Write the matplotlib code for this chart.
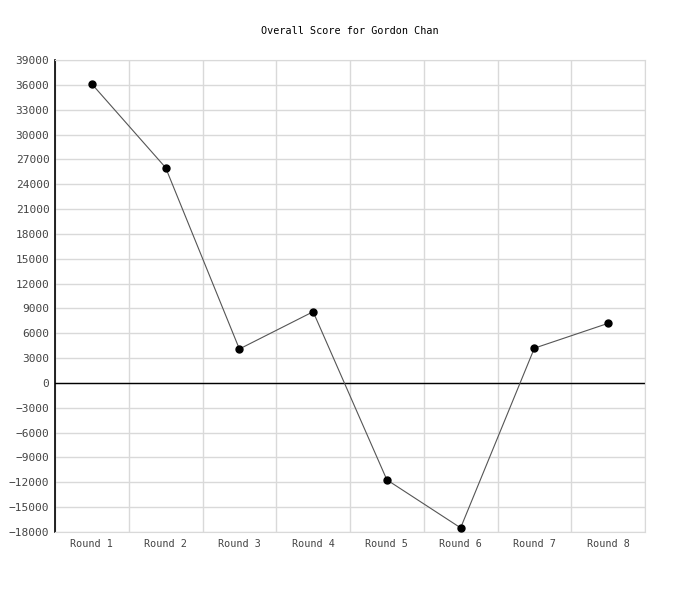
import matplotlib
matplotlib.use('Agg')
import matplotlib.pyplot as plt
import numpy as np

rounds = ['Round 1', 'Round 2', 'Round 3', 'Round 4',
          'Round 5', 'Round 6', 'Round 7', 'Round 8']
scores = [36100, 26000, 4100, 8600, -11700, -17500, 4200, 7200]

plt.rcParams['font.family'] = 'DejaVu Sans Mono'

fig = plt.figure(figsize=(7, 6), dpi=100)
ax = fig.add_axes([55 / 700, 1 - 532 / 600, 590 / 700, 472 / 600])

x = np.arange(len(rounds))
ax.plot(x, scores, color='#555555', linewidth=0.8, marker='o',
        markersize=5, markerfacecolor='black', markeredgecolor='black', zorder=3)
ax.axhline(0, color='black', linewidth=1.0, zorder=2)

ax.set_xlim(-0.5, len(rounds) - 0.5)
ax.set_ylim(-18000, 39000)
ax.set_yticks(np.arange(-18000, 39001, 3000))
ax.set_xticks(x)
ax.set_xticklabels(rounds)
ax.set_xticks(np.arange(-0.5, len(rounds), 1), minor=True)

ax.grid(True, axis='y', color='#d9d9d9', linewidth=1)
ax.grid(True, axis='x', which='minor', color='#d9d9d9', linewidth=1)
ax.grid(False, axis='x', which='major')
ax.tick_params(axis='y', which='both', length=0, labelsize=8, labelcolor='#444444', pad=4)
ax.tick_params(axis='x', which='both', length=0, labelsize=7.3, labelcolor='#444444', pad=5)

for side in ['top', 'right', 'bottom']:
    ax.spines[side].set_color('#d9d9d9')
ax.spines['left'].set_color('black')
ax.spines['left'].set_linewidth(1.2)
ax.set_axisbelow(True)

fig.text(0.5, 1 - 31 / 600, 'Overall Score for Gordon Chan', ha='center',
         va='center', fontsize=7.3, color='black')

fig.savefig('out.png', dpi=100)
